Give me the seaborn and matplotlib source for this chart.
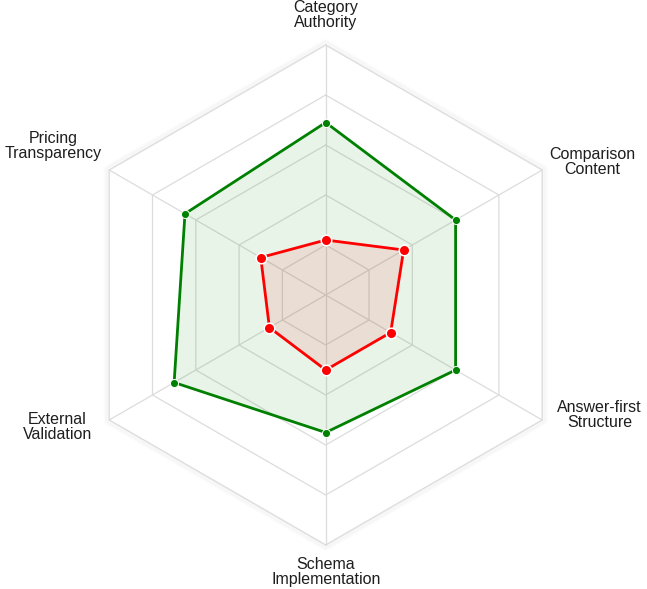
import numpy as np
import pandas as pd
import matplotlib
matplotlib.use('Agg')
import matplotlib.pyplot as plt
import seaborn as sns

# radar data, clockwise from the top
categories = ['Category\nAuthority', 'Comparison\nContent', 'Answer-first\nStructure',
              'Schema\nImplementation', 'External\nValidation', 'Pricing\nTransparency']
greenScores = [69, 60, 60, 55, 70, 65]
redScores = [22, 36, 30, 30, 26, 30]
ringLevels = [20, 40, 60, 80, 100]

sns.set_style('white')
plt.rcParams['font.family'] = ['Liberation Sans', 'DejaVu Sans']

n = len(categories)
angles = np.linspace(0, 2 * np.pi, n, endpoint=False)
loop = np.append(angles, angles[0])


def closed(vals):
    return np.append(vals, vals[0])


lines = pd.DataFrame({
    'theta': np.concatenate([loop, loop]),
    'score': np.concatenate([closed(greenScores), closed(redScores)]),
    'series': ['green'] * (n + 1) + ['red'] * (n + 1),
})
points = lines.groupby('series').head(n)

fig = plt.figure(figsize=(6.47, 5.89), dpi=100)
ax = fig.add_axes([75.7 / 647, 44 / 589, 500 / 647, 500 / 589], projection='polar')
ax.set_theta_zero_location('N')
ax.set_theta_direction(-1)
ax.set_ylim(0, 100)
ax.grid(False)
ax.set_xticks([])
ax.set_yticks([])
ax.spines['polar'].set_visible(False)
ax.patch.set_alpha(0)

# hexagon grid with a faint shadow on the outer ring
for w, a in [(5, 0.012), (3, 0.018)]:
    ax.plot(loop, [101] * (n + 1), color='black', lw=w, alpha=a, clip_on=False, zorder=0)
for lvl in ringLevels:
    ax.plot(loop, [lvl] * (n + 1), color='#dcdcdc', lw=0.9, clip_on=False, zorder=1)
for ang in angles:
    ax.plot([ang, ang], [0, 100], color='#dcdcdc', lw=0.9, clip_on=False, zorder=1)

style = {
    'green': dict(color='#008000', s=34, edge=0.7),
    'red': dict(color='#ff0000', s=58, edge=1.1),
}
z = 2
for name in ['green', 'red']:
    st = style[name]
    sub = lines[lines.series == name]
    ax.fill(sub.theta, sub.score, color=st['color'], alpha=0.085, lw=0, zorder=z)
    sns.lineplot(data=sub, x='theta', y='score', sort=False, estimator=None,
                 color=st['color'], lw=2.0, ax=ax, zorder=z + 1)
    sns.scatterplot(data=points[points.series == name], x='theta', y='score',
                    color=st['color'], s=st['s'], edgecolor='white', linewidth=st['edge'],
                    ax=ax, zorder=z + 2, clip_on=False)
    z += 3

ax.set_xlabel('')
ax.set_ylabel('')

# label placement relative to each outer vertex (pixels)
labelOffsets = [(0, 30, 'center'), (7, 8, 'left'), (15, 5, 'left'),
                (0, -27, 'center'), (-17, -7, 'right'), (-7, 24, 'right')]
for lab, ang, (dx, dy, ha) in zip(categories, angles, labelOffsets):
    ax.annotate(lab, xy=(ang, 100), xytext=(dx, dy), textcoords='offset pixels',
                ha=ha, va='center', multialignment='center', fontsize=11.5,
                linespacing=1.05, color='#1e1e1e', annotation_clip=False)

fig.savefig('out.png', dpi=100)
